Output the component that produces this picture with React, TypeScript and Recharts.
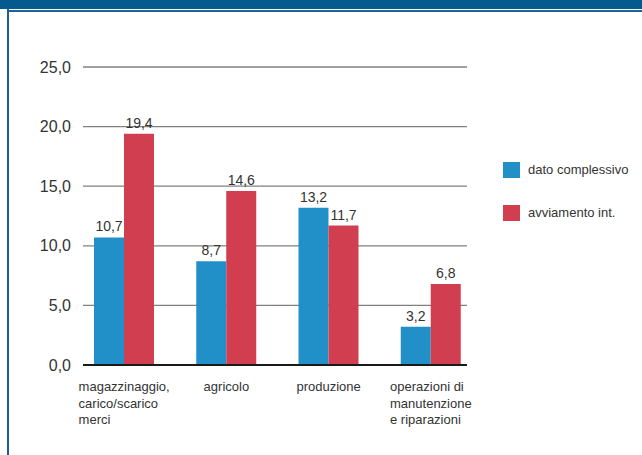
import React from 'react'
import {
  BarChart, Bar, XAxis, YAxis, CartesianGrid, Legend, LabelList,
} from 'recharts'

const categories = [
  'magazzinaggio,\ncarico/scarico\nmerci',
  'agricolo',
  'produzione',
  'operazioni di\nmanutenzione\ne riparazioni',
]
const datoComplessivo = [10.7, 8.7, 13.2, 3.2]
const avviamentoInt = [19.4, 14.6, 11.7, 6.8]
const yTicks = [0, 5, 10, 15, 20, 25]
const seriesNames = ['dato complessivo', 'avviamento int.']

const data = categories.map((cat, i) => ({
  cat,
  dato: datoComplessivo[i],
  avv: avviamentoInt[i],
}))

const BLUE = '#2190c9'
const RED = '#d13e4f'
const FONT = 'Arial, "Liberation Sans", sans-serif'

const comma = (v: number) => Number(v).toFixed(1).replace('.', ',')

let ctx: CanvasRenderingContext2D | null = null
function measure(s: string, font: string) {
  if (!ctx) ctx = document.createElement('canvas').getContext('2d')
  if (!ctx) return s.length * 7
  ctx.font = font
  return ctx.measureText(s).width
}

function CatTick(props: any) {
  const { x, y, payload } = props
  const lines = String(payload.value).split('\n')
  const w = Math.max(...lines.map(l => measure(l, '13px "Liberation Sans"')))
  const left = x - w / 2
  return (
    <text x={left} y={y} fill="#333" fontSize={13} fontFamily={FONT} textAnchor="start">
      {lines.map((l, i) => (
        <tspan key={i} x={left} dy={i === 0 ? 0 : 16.7}>{l}</tspan>
      ))}
    </text>
  )
}

function LegendBox() {
  const colors = [BLUE, RED]
  return (
    <div style={{ fontFamily: FONT, fontSize: 13, color: '#333' }}>
      {seriesNames.map((name, i) => (
        <div key={i} style={{ display: 'flex', alignItems: 'center', height: 17, marginBottom: 26 }}>
          <span style={{ width: 17, height: 16, background: colors[i], display: 'inline-block', marginRight: 8 }} />
          <span>{name}</span>
        </div>
      ))}
    </div>
  )
}

export default function App() {
  return (
    <div style={{ position: 'absolute', left: 0, top: 0, width: 642, height: 455, background: '#fff', overflow: 'hidden' }}>
      <div style={{ position: 'absolute', left: 0, top: 0, width: 642, height: 9, background: '#04598f' }} />
      <div style={{ position: 'absolute', left: 9, top: 10, width: 633, height: 2, background: '#1a649b' }} />
      <div style={{ position: 'absolute', left: 7, top: 9, width: 2, height: 446, background: '#1d5f97' }} />
      <BarChart
        width={642}
        height={455}
        data={data}
        barGap={0}
        barSize={30}
        margin={{ top: 67, right: 175, bottom: 60, left: 0 }}
      >
        <CartesianGrid vertical={false} stroke="#808080" strokeWidth={1.3} />
        <XAxis
          dataKey="cat"
          height={30}
          interval={0}
          padding={{ left: -10, right: -15 }}
          tickSize={0}
          tickMargin={26}
          tick={<CatTick />}
          axisLine={{ stroke: '#1a1a1a', strokeWidth: 2 }}
        />
        <YAxis
          width={83}
          domain={[0, 25]}
          ticks={yTicks}
          tickFormatter={comma}
          axisLine={false}
          tickLine={false}
          tickSize={0}
          tickMargin={12}
          tick={{ fontSize: 16, fill: '#333', fontFamily: FONT }}
        />
        <Legend
          layout="vertical"
          align="center"
          verticalAlign="middle"
          content={<LegendBox />}
          wrapperStyle={{ left: 503, top: 161, width: 140 }}
        />
        <Bar dataKey="dato" name={seriesNames[0]} fill={BLUE} isAnimationActive={false}>
          <LabelList dataKey="dato" position="top" offset={6} formatter={(v: any) => comma(v)} style={{ fontSize: 14, fill: '#333', fontFamily: FONT }} />
        </Bar>
        <Bar dataKey="avv" name={seriesNames[1]} fill={RED} isAnimationActive={false}>
          <LabelList dataKey="avv" position="top" offset={6} formatter={(v: any) => comma(v)} style={{ fontSize: 14, fill: '#333', fontFamily: FONT }} />
        </Bar>
      </BarChart>
    </div>
  )
}
